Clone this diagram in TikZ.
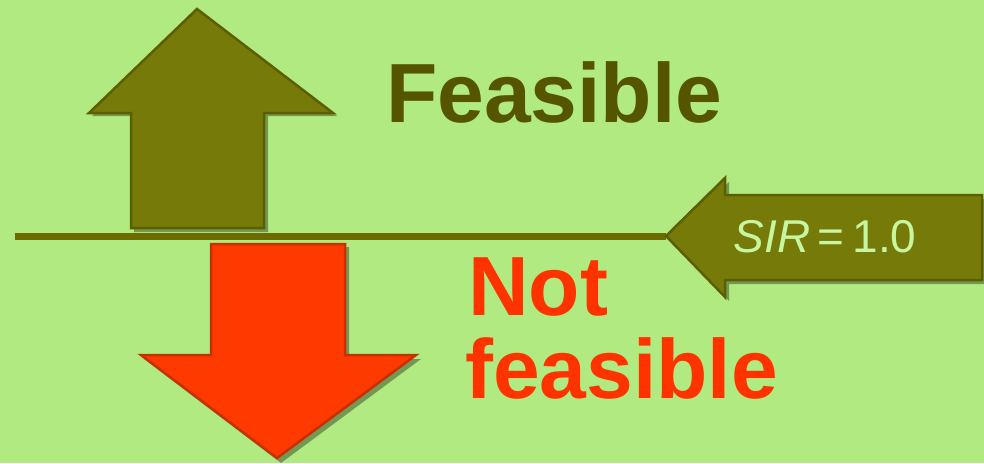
\documentclass[tikz,border=0pt]{standalone}
\usepackage{fontspec}
\setmainfont{Liberation Sans}
\begin{document}
\begin{tikzpicture}[x=1pt,y=-1pt,
  bigtext/.style={font=\fontsize{84}{84}\selectfont\bfseries, inner sep=0pt},
  olivearrow/.style={fill=arrowolive, draw=arrowdark, line width=2.5pt, line join=miter},
  redarrow/.style={fill=arrowred, draw=reddark, line width=2.5pt, line join=miter},
  shadow/.style={opacity=0.35}]
\definecolor{bg}{HTML}{B0EA80}
\definecolor{arrowolive}{HTML}{757A08}
\definecolor{arrowdark}{HTML}{5C5E00}
\definecolor{arrowred}{HTML}{FF3A00}
\definecolor{reddark}{HTML}{C83000}
\definecolor{lineolive}{HTML}{6B6B00}
\definecolor{feasol}{HTML}{555500}
\definecolor{nfred}{HTML}{FF3300}
\definecolor{sirtxt}{HTML}{C8F5A0}
\useasboundingbox (0,0) rectangle (984,463);
\fill[bg] (0,0) rectangle (984,463);
% up arrow
\fill[black,shadow] (134,116) -- (92,116) -- (200,12) -- (337,116) -- (268,116) -- (268,232) -- (134,232) -- cycle;
\draw[olivearrow] (131,113) -- (89,113) -- (197,9) -- (333,113) -- (264,113) -- (264,228) -- (131,228) -- cycle;
% down arrow
\fill[black,shadow] (214,247) -- (349,247) -- (349,359) -- (421,359) -- (281,463) -- (144,359) -- (214,359) -- cycle;
\draw[redarrow] (211,244) -- (345,244) -- (345,355) -- (416,355) -- (277,458) -- (141,355) -- (211,355) -- cycle;
% horizontal line
\coordinate (lstart) at (15,236);
\coordinate (tip) at (666,236);
\draw[lineolive, line width=7pt] (lstart) -- (tip);
% left arrow
\fill[black,shadow] (984,199) -- (729,199) -- (729,182) -- (670,239) -- (729,301) -- (729,284) -- (984,284) -- cycle;
\draw[olivearrow] (982,195) -- (725,195) -- (725,178) -- (tip) -- (725,297) -- (725,280) -- (982,280) -- cycle;
\node[font=\fontsize{46}{46}\selectfont, text=sirtxt, anchor=base, inner sep=0pt] (sir) at (825,252) {\textit{SIR}\,=\,1.0};
% texts
\node[bigtext, text=feasol, anchor=base west] (feas) at (386,122) {Feasible};
\node[bigtext, text=nfred, anchor=base west] (nf1) at (468,315) {Not};
\node[bigtext, text=nfred, anchor=base west] (nf2) at (465,398) {feasible};
\end{tikzpicture}
\end{document}
